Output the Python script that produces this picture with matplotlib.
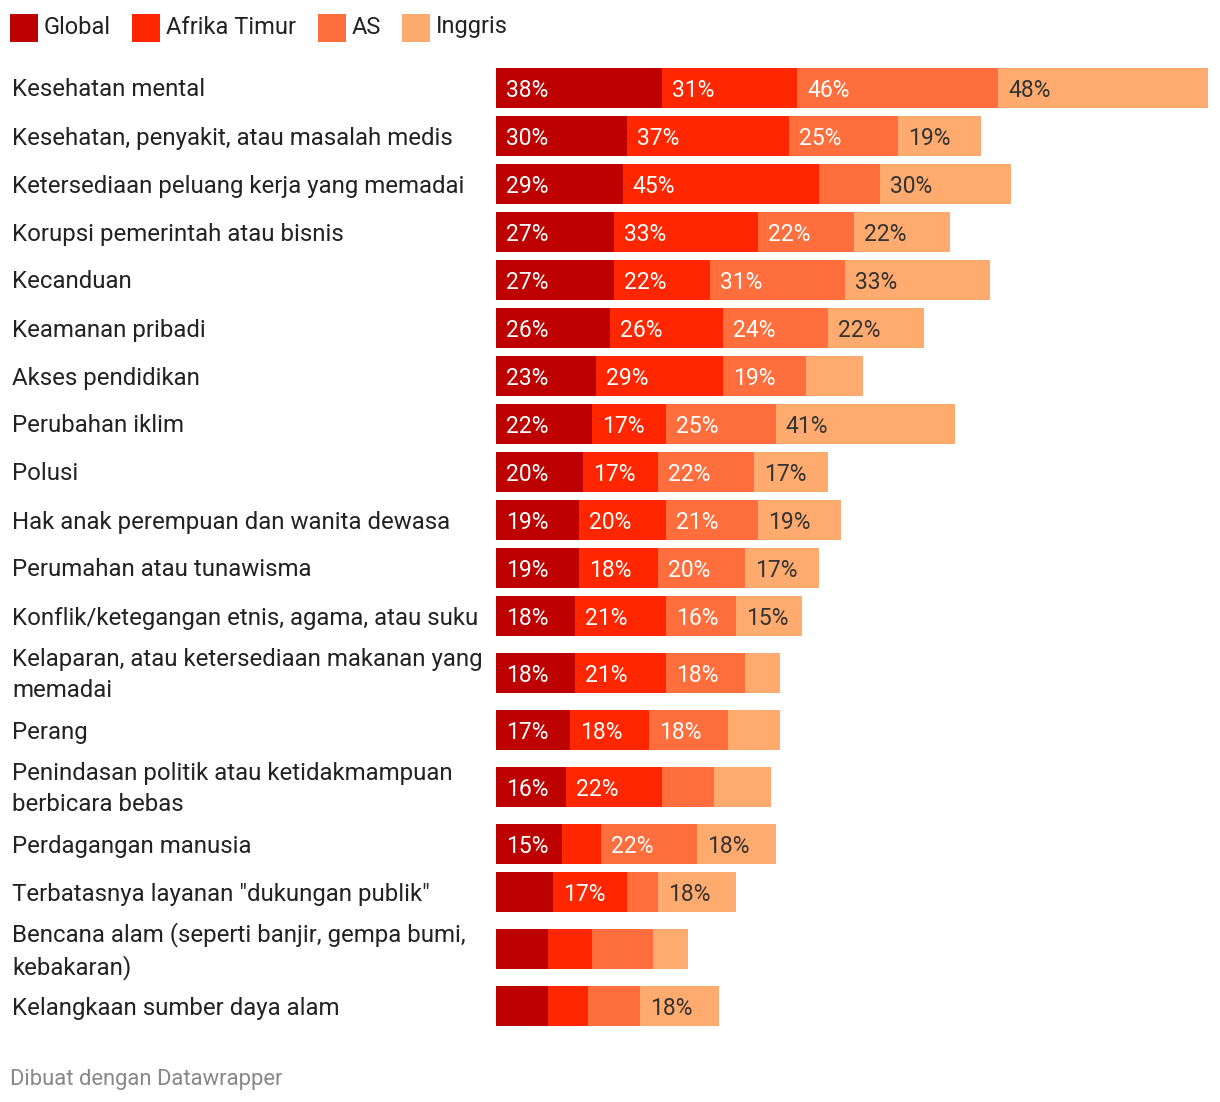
import matplotlib.pyplot as plt
from matplotlib.patches import Rectangle
from matplotlib.transforms import blended_transform_factory

plt.rcParams['font.family'] = ['Roboto', 'DejaVu Sans']

categories = [
    'Kesehatan mental',
    'Kesehatan, penyakit, atau masalah medis',
    'Ketersediaan peluang kerja yang memadai',
    'Korupsi pemerintah atau bisnis',
    'Kecanduan',
    'Keamanan pribadi',
    'Akses pendidikan',
    'Perubahan iklim',
    'Polusi',
    'Hak anak perempuan dan wanita dewasa',
    'Perumahan atau tunawisma',
    'Konflik/ketegangan etnis, agama, atau suku',
    'Kelaparan, atau ketersediaan makanan yang\nmemadai',
    'Perang',
    'Penindasan politik atau ketidakmampuan\nberbicara bebas',
    'Perdagangan manusia',
    'Terbatasnya layanan "dukungan publik"',
    'Bencana alam (seperti banjir, gempa bumi,\nkebakaran)',
    'Kelangkaan sumber daya alam',
]

series_names = ['Global', 'Afrika Timur', 'AS', 'Inggris']
global_vals = [38, 30, 29, 27, 27, 26, 23, 22, 20, 19, 19, 18, 18, 17, 16, 15, 13, 12, 12]
afrika_vals = [31, 37, 45, 33, 22, 26, 29, 17, 17, 20, 18, 21, 21, 18, 22, 9, 17, 10, 9]
as_vals = [46, 25, 14, 22, 31, 24, 19, 25, 22, 21, 20, 16, 18, 18, 12, 22, 7, 14, 12]
inggris_vals = [48, 19, 30, 22, 33, 22, 13, 41, 17, 19, 17, 15, 8, 12, 13, 18, 18, 8, 18]

colors = ['#bd0000', '#ff2600', '#ff6e3c', '#ffaa6e']
label_colors = ['white', 'white', 'white', '#333333']

W, H = 1220, 1102
fig = plt.figure(figsize=(W / 100, H / 100), dpi=100)

# bar area spans 496..1208 px horizontally; y in pixel units
total_max = max(g + a + s + i for g, a, s, i in zip(global_vals, afrika_vals, as_vals, inggris_vals))
ax = fig.add_axes([496 / W, 0, (1208 - 496) / W, 1])
ax.set_xlim(0, total_max)
ax.set_ylim(H, 0)
ax.axis('off')

# row centres: 48 px step, extra space around two-line labels
ys = []
y = 88
for k, cat in enumerate(categories):
    if k > 0:
        step = 48
        if '\n' in cat:
            step += 9
        if '\n' in categories[k - 1]:
            step += 9
        y += step
    ys.append(y)

px = total_max / (1208 - 496)  # data units per pixel
all_vals = [global_vals, afrika_vals, as_vals, inggris_vals]
lefts = [0] * len(categories)
for s, vals in enumerate(all_vals):
    ax.barh(ys, vals, left=lefts, height=40, color=colors[s], linewidth=0)
    for k, v in enumerate(vals):
        if v >= 15:
            ax.text(lefts[k] + 10 * px, ys[k] + 2.5, f'{v}%', ha='left', va='center',
                    fontsize=16.5, color=label_colors[s])
    lefts = [l + v for l, v in zip(lefts, vals)]

trans = blended_transform_factory(fig.transFigure, ax.transData)
for k, cat in enumerate(categories):
    ax.text(12 / W, ys[k] + 2, cat, transform=trans, ha='left', va='center',
            fontsize=17.3, color='#222222', linespacing=1.4)

# legend
leg_x = [10, 132, 318, 402]
for s, name in enumerate(series_names):
    fig.patches.append(Rectangle((leg_x[s] / W, 1 - 42 / H), 28 / W, 28 / H,
                                 transform=fig.transFigure, color=colors[s], linewidth=0))
    fig.text((leg_x[s] + 34) / W, 1 - 27 / H, name, ha='left', va='center',
             fontsize=17, color='#222222')

fig.text(10 / W, 1 - 1079 / H, 'Dibuat dengan Datawrapper', ha='left', va='center',
         fontsize=15.8, color='#888888')

fig.savefig('out.png', dpi=100)
